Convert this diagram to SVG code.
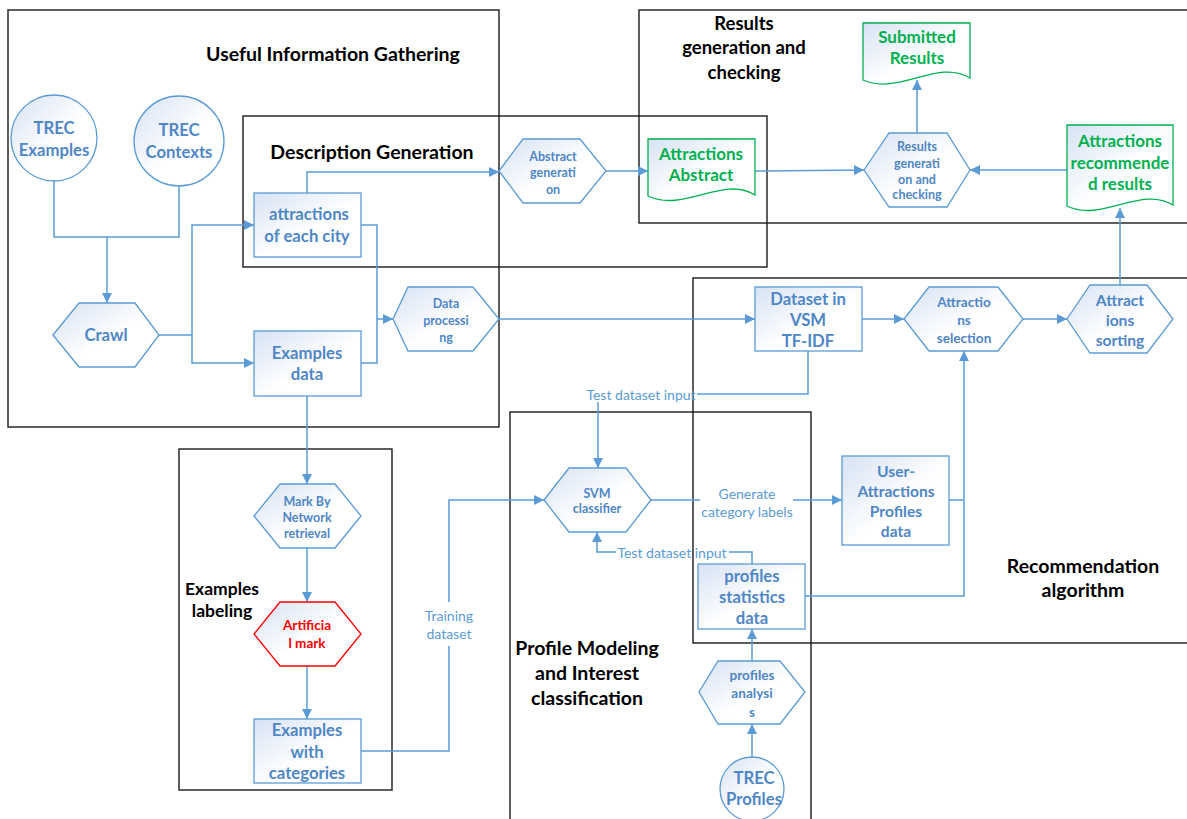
<svg xmlns="http://www.w3.org/2000/svg" width="1187" height="819" viewBox="0 0 1187 819">
<defs>
<linearGradient id="gf" x1="0" y1="0" x2="1" y2="1">
<stop offset="0" stop-color="#d6e2f4"/>
<stop offset="0.55" stop-color="#ffffff"/>
<stop offset="1" stop-color="#ffffff"/>
</linearGradient>
<marker id="ar" viewBox="0 0 10 10" refX="10" refY="5" markerWidth="10" markerHeight="10" markerUnits="userSpaceOnUse" orient="auto">
<path d="M0,0 L10,5 L0,10 z" fill="#5b9bd5"/>
</marker>
<style>
.box{fill:none;stroke:#1a1a1a;stroke-width:1.4}
.title{font-family:Lato,"Liberation Sans",sans-serif;font-weight:bold;font-size:19.5px;fill:#000;text-anchor:middle;dominant-baseline:central}
.n{fill:url(#gf);stroke:#5b9bd5;stroke-width:1.3}
.nr{fill:url(#gf);stroke:#ff0000;stroke-width:1.3}
.ng{fill:url(#gf);stroke:#00b050;stroke-width:1.3}
.t{font-family:Lato,"Liberation Sans",sans-serif;font-weight:bold;fill:#4f86c6;text-anchor:middle;dominant-baseline:central}
.tg{font-family:Lato,"Liberation Sans",sans-serif;font-weight:bold;fill:#00b050;text-anchor:middle;dominant-baseline:central;font-size:17px}
.tr{font-family:Lato,"Liberation Sans",sans-serif;font-weight:bold;fill:#ff0000;text-anchor:middle;dominant-baseline:central;font-size:13.5px}
.lbl{font-family:Lato,"Liberation Sans",sans-serif;font-size:14px;fill:#5b9bd5;text-anchor:middle;dominant-baseline:central}
.s15{font-size:16.7px}
.s14{font-size:15.6px}
.s12{font-size:13.6px}
.s11{font-size:12.5px}
.c{fill:none;stroke:#5b9bd5;stroke-width:1.5}
.ca{fill:none;stroke:#5b9bd5;stroke-width:1.5;marker-end:url(#ar)}
</style>
</defs>
<rect width="1187" height="819" fill="#fff"/>

<g id="containers">
<rect class="box" x="8" y="10" width="491" height="417"/>
<rect class="box" x="243" y="116" width="524" height="151"/>
<rect class="box" x="639" y="10" width="560" height="213"/>
<rect class="box" x="693" y="278" width="510" height="365"/>
<rect class="box" x="179" y="449" width="213" height="341"/>
<rect class="box" x="510" y="412" width="301" height="420"/>
<text class="title" x="333" y="53">Useful Information Gathering</text>
<text class="title" x="372" y="151">Description Generation</text>
<text class="title" x="744" y="23" style="font-size:18.5px">Results</text>
<text class="title" x="744" y="47" style="font-size:18.5px">generation and</text>
<text class="title" x="744" y="72" style="font-size:18.5px">checking</text>
<text class="title" x="222" y="588" style="font-size:17.5px">Examples</text>
<text class="title" x="222" y="610" style="font-size:17.5px">labeling</text>
<text class="title" x="587" y="647">Profile Modeling</text>
<text class="title" x="587" y="672">and Interest</text>
<text class="title" x="587" y="697">classification</text>
<text class="title" x="1083" y="565">Recommendation</text>
<text class="title" x="1083" y="589">algorithm</text>
</g>

<g id="connectors">
<polyline class="c" points="54,181 54,237 107,237"/>
<polyline class="c" points="179,186 179,237 107,237"/>
<polyline class="ca" points="107,237 107,303"/>
<polyline class="ca" points="159,335 192,335 192,225 254,225"/>
<polyline class="ca" points="192,335 192,363 254,363"/>
<polyline class="ca" points="307,193 307,172 499,172"/>
<polyline class="c" points="361,225 377,225 377,363 361,363"/>
<polyline class="ca" points="377,319 393,319"/>
<polyline class="ca" points="499,319 755,319"/>
<polyline class="ca" points="606,171 648,171"/>
<polyline class="ca" points="755,171 864,170"/>
<polyline class="ca" points="917,133 917,80"/>
<polyline class="ca" points="1067,170 970,170"/>
<polyline class="ca" points="1120,285 1120,208"/>
<polyline class="ca" points="862,319 904,319"/>
<polyline class="ca" points="1023,319 1067,319"/>
<polyline class="c" points="808,351 808,394 697,394"/>
<text class="lbl" x="641" y="394">Test dataset input</text>
<polyline class="ca" points="598,402 598,468"/>
<polyline class="ca" points="307,396 307,484"/>
<polyline class="ca" points="307,548 307,602"/>
<polyline class="ca" points="307,666 307,719"/>
<polyline class="c" points="361,751 449,751 449,646"/>
<text class="lbl" x="449" y="615">Training</text>
<text class="lbl" x="449" y="633">dataset</text>
<polyline class="ca" points="449,602 449,500 544,500"/>
<polyline class="c" points="651,500 700,500"/>
<text class="lbl" x="747" y="493">Generate</text>
<text class="lbl" x="747" y="511">category labels</text>
<polyline class="ca" points="793,500 842,500"/>
<polyline class="c" points="752,564 752,552 729,552"/>
<text class="lbl" x="672" y="552">Test dataset input</text>
<polyline class="ca" points="616,552 597,552 597,532"/>
<polyline class="c" points="949,500 964,500"/>
<polyline class="ca" points="805,596 964,596 964,351"/>
<polyline class="ca" points="752,661 752,629"/>
<polyline class="ca" points="752,757 752,724"/>
</g>

<g id="trec-examples">
<circle class="n" cx="54" cy="138" r="43"/>
<text class="t s15" x="54" y="128">TREC</text>
<text class="t s15" x="54" y="150">Examples</text>
</g>
<g id="trec-contexts">
<circle class="n" cx="179" cy="141" r="45"/>
<text class="t s15" x="179" y="130">TREC</text>
<text class="t s15" x="179" y="152">Contexts</text>
</g>
<g id="crawl">
<polygon class="n" points="53,335 79,303 135,303 159,335 135,367 79,367"/>
<text class="t s15" x="106" y="335">Crawl</text>
</g>
<g id="attractions-city">
<rect class="n" x="254" y="193" width="107" height="64"/>
<text class="t s15" x="309" y="214">attractions</text>
<text class="t s15" x="307" y="236">of each city</text>
</g>
<g id="examples-data">
<rect class="n" x="254" y="331" width="107" height="65"/>
<text class="t s15" x="307" y="353">Examples</text>
<text class="t s15" x="307" y="374">data</text>
</g>
<g id="data-processing">
<polygon class="n" points="393,319 408,287 473,287 499,319 473,351 408,351"/>
<text class="t s11" x="446" y="303">Data</text>
<text class="t s11" x="446" y="320">processi</text>
<text class="t s11" x="446" y="337">ng</text>
</g>
<g id="abstract-generation">
<polygon class="n" points="499,171 523,139 580,139 606,171 580,203 523,203"/>
<text class="t s11" x="553" y="156">Abstract</text>
<text class="t s11" x="553" y="172">generati</text>
<text class="t s11" x="553" y="189">on</text>
</g>
<g id="attractions-abstract">
<path class="ng" d="M648,139 H755 V195 C723,175 684,213 648,196 Z"/>
<text class="tg" x="701" y="153">Attractions</text>
<text class="tg" x="701" y="174">Abstract</text>
</g>
<g id="submitted-results">
<path class="ng" d="M863,23 H970 V78 C938,58 899,96 863,80 Z"/>
<text class="tg" x="917" y="36">Submitted</text>
<text class="tg" x="917" y="57">Results</text>
</g>
<g id="results-generation">
<polygon class="n" points="864,170 889,133 947,133 970,170 947,207 889,207"/>
<text class="t s11" x="917" y="146">Results</text>
<text class="t s11" x="917" y="163">generati</text>
<text class="t s11" x="917" y="179">on and</text>
<text class="t s11" x="917" y="194">checking</text>
</g>
<g id="attractions-recommended">
<path class="ng" d="M1067,125 H1173 V205 C1141,185 1102,223 1067,206 Z"/>
<text class="tg" x="1120" y="140">Attractions</text>
<text class="tg" x="1120" y="162">recommende</text>
<text class="tg" x="1120" y="183">d results</text>
</g>
<g id="dataset-vsm">
<rect class="n" x="755" y="287" width="107" height="64"/>
<text class="t s15" x="808" y="299">Dataset in</text>
<text class="t s15" x="808" y="320">VSM</text>
<text class="t s15" x="808" y="341">TF-IDF</text>
</g>
<g id="attractions-selection">
<polygon class="n" points="904,319 929,287 998,287 1023,319 998,351 929,351"/>
<text class="t s12" x="964" y="302">Attractio</text>
<text class="t s12" x="964" y="320">ns</text>
<text class="t s12" x="964" y="338">selection</text>
</g>
<g id="attractions-sorting">
<polygon class="n" points="1067,319 1090,285 1147,285 1173,319 1147,353 1090,353"/>
<text class="t s14" x="1120" y="300">Attract</text>
<text class="t s14" x="1120" y="320">ions</text>
<text class="t s14" x="1120" y="340">sorting</text>
</g>
<g id="user-attractions">
<rect class="n" x="842" y="456" width="107" height="89"/>
<text class="t s14" x="896" y="471">User-</text>
<text class="t s14" x="896" y="491">Attractions</text>
<text class="t s14" x="896" y="511">Profiles</text>
<text class="t s14" x="896" y="531">data</text>
</g>
<g id="mark-network">
<polygon class="n" points="254,516 280,484 335,484 361,516 335,548 280,548"/>
<text class="t s11" x="307" y="501">Mark By</text>
<text class="t s11" x="307" y="517">Network</text>
<text class="t s11" x="307" y="533">retrieval</text>
</g>
<g id="artificial-mark">
<polygon class="nr" points="254,634 280,602 335,602 361,634 335,666 280,666"/>
<text class="tr" x="307" y="625">Artificia</text>
<text class="tr" x="307" y="643">l mark</text>
</g>
<g id="examples-categories">
<rect class="n" x="254" y="719" width="107" height="64"/>
<text class="t s15" x="307" y="730">Examples</text>
<text class="t s15" x="307" y="752">with</text>
<text class="t s15" x="307" y="773">categories</text>
</g>
<g id="svm">
<polygon class="n" points="544,500 569,468 626,468 651,500 626,532 569,532"/>
<text class="t s11" x="597" y="493">SVM</text>
<text class="t s11" x="597" y="508">classifier</text>
</g>
<g id="profiles-statistics">
<rect class="n" x="698" y="564" width="107" height="65"/>
<text class="t s15" x="752" y="576">profiles</text>
<text class="t s15" x="752" y="597">statistics</text>
<text class="t s15" x="752" y="618">data</text>
</g>
<g id="profiles-analysis">
<polygon class="n" points="699,692 718,661 780,661 805,692 780,724 718,724"/>
<text class="t s12" x="752" y="675">profiles</text>
<text class="t s12" x="752" y="693">analysi</text>
<text class="t s12" x="752" y="712">s</text>
</g>
<g id="trec-profiles">
<circle class="n" cx="752" cy="789" r="32"/>
<text class="t s15" x="754" y="778">TREC</text>
<text class="t s15" x="754" y="799">Profiles</text>
</g>
</svg>
